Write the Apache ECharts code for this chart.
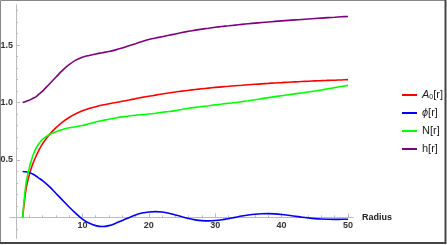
<!DOCTYPE html>
<html><head><meta charset="utf-8">
<script src="https://cdn.jsdelivr.net/npm/echarts@6/dist/echarts.min.js"></script>
<style>html,body{margin:0;padding:0;background:#fff}#c{width:447px;height:245px}</style>
</head><body><div id="c"></div>
<script>
const radius = [1,1.5,2,2.5,3,3.5,4,5,6,7,8,9,10,11,12,13,14,15,16,17,18,19,20,21,22,23,24,25,26,27,28,29,30,31,32,33,34,35,36,37,38,39,40,41,42,43,44,45,46,47,48,49,50];
const A0 = [0,0.24,0.37,0.46,0.53,0.59,0.64,0.72,0.78,0.83,0.87,0.902,0.928,0.948,0.964,0.978,0.99,1.0,1.011,1.022,1.034,1.045,1.055,1.065,1.075,1.084,1.092,1.1,1.107,1.114,1.12,1.126,1.132,1.137,1.142,1.147,1.151,1.155,1.159,1.163,1.167,1.171,1.174,1.177,1.18,1.183,1.186,1.189,1.191,1.193,1.195,1.197,1.2];
const phi = [0.4,0.397,0.39,0.377,0.36,0.34,0.32,0.27,0.21,0.15,0.09,0.035,-0.015,-0.05,-0.072,-0.08,-0.072,-0.052,-0.027,-0.003,0.02,0.037,0.047,0.05,0.046,0.036,0.021,0.005,-0.01,-0.022,-0.029,-0.031,-0.028,-0.021,-0.011,0.0,0.011,0.02,0.027,0.031,0.032,0.03,0.025,0.018,0.01,0.002,-0.005,-0.011,-0.015,-0.017,-0.018,-0.017,-0.016];
const N = [0,0.29,0.43,0.53,0.6,0.645,0.68,0.72,0.745,0.765,0.78,0.79,0.8,0.815,0.83,0.843,0.855,0.866,0.875,0.883,0.89,0.895,0.9,0.907,0.915,0.922,0.93,0.94,0.95,0.958,0.965,0.972,0.98,0.987,0.994,1.0,1.008,1.016,1.025,1.034,1.043,1.052,1.06,1.068,1.076,1.084,1.092,1.1,1.11,1.12,1.13,1.14,1.15];
const h = [1.0,1.01,1.02,1.035,1.05,1.075,1.1,1.16,1.22,1.28,1.33,1.37,1.395,1.41,1.423,1.434,1.445,1.459,1.475,1.494,1.513,1.532,1.55,1.562,1.574,1.586,1.598,1.61,1.621,1.631,1.64,1.648,1.656,1.663,1.669,1.675,1.681,1.687,1.692,1.697,1.702,1.707,1.712,1.716,1.72,1.724,1.728,1.732,1.736,1.74,1.743,1.747,1.75];
const seriesNames = ['A0[r]','ϕ[r]','N[r]','h[r]'];
const xMajor = [10,20,30,40,50];
const xMinor = [2,4,6,8,12,14,16,18,22,24,26,28,32,34,36,38,42,44,46,48];
const yMajor = [0.5,1.0,1.5];
const yMinor = [-0.1,0.1,0.2,0.3,0.4,0.6,0.7,0.8,0.9,1.1,1.2,1.3,1.4,1.6,1.7,1.8];

const colors = ['#ff0000','#0000ff','#00ff00','#800080'];
const dataSets = [A0, phi, N, h];
const axisColor = '#bbbbbb';
const FF = 'Liberation Sans, Arial, sans-serif';
const labelStyle = {fontSize: 9, fontWeight: 'bold', color: '#333', fontFamily: FF};

const chart = echarts.init(document.getElementById('c'), null, {renderer: 'canvas'});
chart.setOption({
  backgroundColor: '#fff',
  animation: false,
  grid: [
    {left: 10, right: 94, top: 5, bottom: 7, containLabel: false, outerBoundsMode: 'none'},
    {left: 16, right: 94, top: 5, bottom: 27.66, containLabel: false, outerBoundsMode: 'none'}
  ],
  xAxis: [{
    gridIndex: 0, type: 'value', min: -0.9, max: 50.75, position: 'bottom',
    axisLine: {onZero: true, lineStyle: {color: axisColor, width: 1}},
    axisTick: {inside: true, length: 4, customValues: xMajor, lineStyle: {color: axisColor}},
    axisLabel: {show: false},
    splitLine: {show: false},
    name: 'Radius', nameLocation: 'end', nameGap: 9,
    nameTextStyle: {fontSize: 9, fontWeight: 'bold', color: '#222', fontFamily: FF}
  }, {
    gridIndex: 0, type: 'value', min: -0.9, max: 50.75, position: 'bottom',
    axisLine: {onZero: true, lineStyle: {color: axisColor, width: 1}},
    axisTick: {inside: true, length: 2, customValues: xMinor, lineStyle: {color: axisColor}},
    axisLabel: {show: false},
    splitLine: {show: false}
  }, {
    gridIndex: 1, type: 'value', min: 0, max: 50.75, position: 'bottom',
    axisLine: {show: false}, axisTick: {show: false},
    axisLabel: Object.assign({customValues: xMajor, margin: 4}, labelStyle),
    splitLine: {show: false}
  }],
  yAxis: [{
    gridIndex: 0, type: 'value', min: -0.18, max: 1.85, position: 'left',
    axisLine: {onZero: true, lineStyle: {color: axisColor, width: 1}},
    axisTick: {inside: true, length: 4, customValues: yMajor, lineStyle: {color: axisColor}},
    axisLabel: {show: false},
    splitLine: {show: false}
  }, {
    gridIndex: 0, type: 'value', min: -0.18, max: 1.85, position: 'left',
    axisLine: {onZero: true, lineStyle: {color: axisColor, width: 1}},
    axisTick: {inside: true, length: 2, customValues: yMinor, lineStyle: {color: axisColor}},
    axisLabel: {show: false},
    splitLine: {show: false}
  }, {
    gridIndex: 1, type: 'value', min: 0, max: 1.85, position: 'left',
    axisLine: {show: false}, axisTick: {show: false},
    axisLabel: Object.assign({customValues: yMajor, margin: 3, formatter: v => v.toFixed(1)}, labelStyle),
    splitLine: {show: false}
  }],
  legend: {
    orient: 'vertical', left: 397, top: 83,
    icon: 'rect', itemWidth: 15, itemHeight: 2, itemGap: 4,
    data: seriesNames,
    formatter: function (n) {
      if (n === 'A0[r]') return '{i|A}{s|0}[r]';
      if (n === 'ϕ[r]') return '{i|ϕ}[r]';
      return n;
    },
    textStyle: {
      fontSize: 11, color: '#222', lineHeight: 14, fontFamily: FF,
      rich: {
        i: {fontSize: 11, fontStyle: 'italic', color: '#222', fontFamily: FF},
        s: {fontSize: 7, color: '#222', padding: [5, 0, 0, 0], fontFamily: FF}
      }
    }
  },
  graphic: [
    {type: 'rect', shape: {x: 0.5, y: 0.5, width: 445, height: 242}, style: {fill: 'none', stroke: '#888', lineWidth: 1}, silent: true},
    {type: 'line', shape: {x1: 445.5, y1: 0, x2: 445.5, y2: 244}, style: {stroke: '#444', lineWidth: 2}, silent: true},
    {type: 'line', shape: {x1: 0, y1: 243, x2: 446, y2: 243}, style: {stroke: '#444', lineWidth: 2}, silent: true}
  ],
  series: seriesNames.map((n, i) => ({
    name: n, type: 'line', xAxisIndex: 0, yAxisIndex: 0,
    data: radius.map((r, k) => [r, dataSets[i][k]]),
    smooth: 0.3, showSymbol: false, symbol: 'none',
    lineStyle: {color: colors[i], width: 1.6},
    itemStyle: {color: colors[i]}
  }))
});
</script></body></html>
